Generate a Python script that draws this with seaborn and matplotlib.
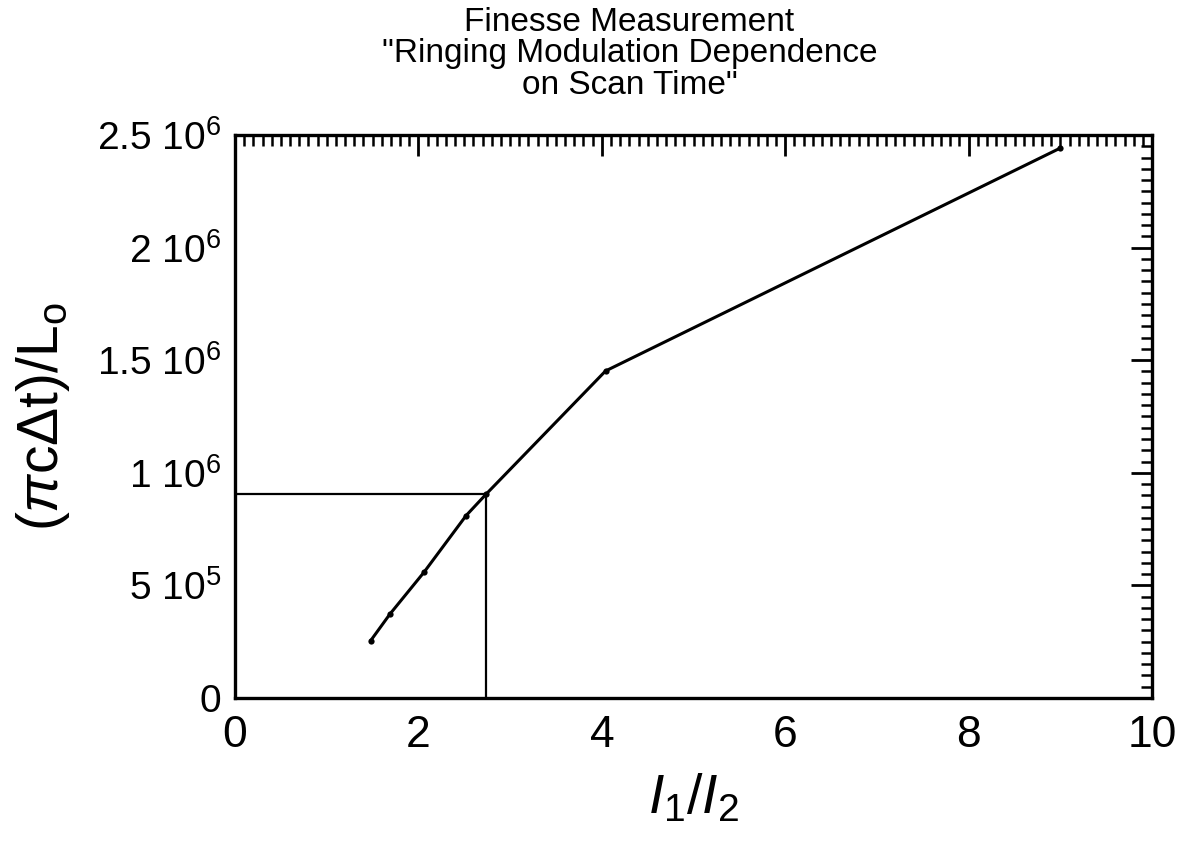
import matplotlib
matplotlib.use("Agg")
import matplotlib.pyplot as plt
import seaborn as sns
import pandas as pd
from matplotlib.ticker import MultipleLocator, FixedLocator

# ---- data ----
ratio_i1_i2 = [1.48, 1.69, 2.06, 2.52, 2.74, 4.04, 9.00]
pi_c_dt_over_L = [2.55e5, 3.73e5, 5.58e5, 8.10e5, 9.06e5, 1.452e6, 2.442e6]

guide_x = [0.0, 2.74, 2.74]
guide_y = [9.06e5, 9.06e5, 0.0]

x_ticks = [0, 2, 4, 6, 8, 10]
x_tick_labels = ["0", "2", "4", "6", "8", "10"]
y_ticks = [0, 5e5, 1e6, 1.5e6, 2e6, 2.5e6]
y_tick_labels = ["0", r"5 10$^5$", r"1 10$^6$", r"1.5 10$^6$", r"2 10$^6$", r"2.5 10$^6$"]

title_lines = ["Finesse Measurement", "\"Ringing Modulation Dependence", "on Scan Time\""]

sns.set_theme(style="white")
plt.rcParams["font.family"] = ["Liberation Sans", "DejaVu Sans"]
plt.rcParams["mathtext.fontset"] = "custom"
plt.rcParams["mathtext.rm"] = "Liberation Sans"
plt.rcParams["mathtext.it"] = "Liberation Sans:italic"
plt.rcParams["text.color"] = "black"
plt.rcParams["axes.labelcolor"] = "black"
plt.rcParams["xtick.color"] = "black"
plt.rcParams["ytick.color"] = "black"

fig = plt.figure(figsize=(11.81, 8.56), dpi=100)
ax = fig.add_axes([0.199, 0.1846, 0.7765, 0.6577])

df = pd.DataFrame({"x": ratio_i1_i2, "y": pi_c_dt_over_L})
sns.lineplot(data=df, x="x", y="y", ax=ax, color="black", linewidth=2.2,
             marker="o", markersize=4.5, markeredgewidth=0, sort=False, estimator=None)
ax.plot(guide_x, guide_y, color="black", linewidth=1.6)

ax.set_xlim(0, 10)
ax.set_ylim(0, 2.5e6)
ax.xaxis.set_major_locator(FixedLocator(x_ticks))
ax.set_xticklabels(x_tick_labels)
ax.yaxis.set_major_locator(FixedLocator(y_ticks))
ax.set_yticklabels(y_tick_labels)
ax.xaxis.set_minor_locator(MultipleLocator(0.1))
ax.yaxis.set_minor_locator(MultipleLocator(5e4))

ax.tick_params(which="both", direction="in", top=True, right=True, color="black")
ax.tick_params(which="major", length=15, width=2)
ax.tick_params(which="minor", length=8, width=1.8)
ax.tick_params(axis="x", which="major", labelsize=32, pad=12)
ax.tick_params(axis="y", which="major", labelsize=28, pad=10)

for s in ax.spines.values():
    s.set_visible(True)
    s.set_color("black")
    s.set_linewidth(2.4)

ax.set_xlabel(r"$I_1/I_2$", fontsize=40, labelpad=12)
ax.set_ylabel(r"$(\pi$c$\Delta$t$)/$L$_{\rm o}$", fontsize=41, labelpad=18)

fig.text(0.533, 0.992, "\n".join(title_lines), ha="center", va="top",
         fontsize=24, linespacing=1.02)

fig.savefig("out.png", dpi=100)
